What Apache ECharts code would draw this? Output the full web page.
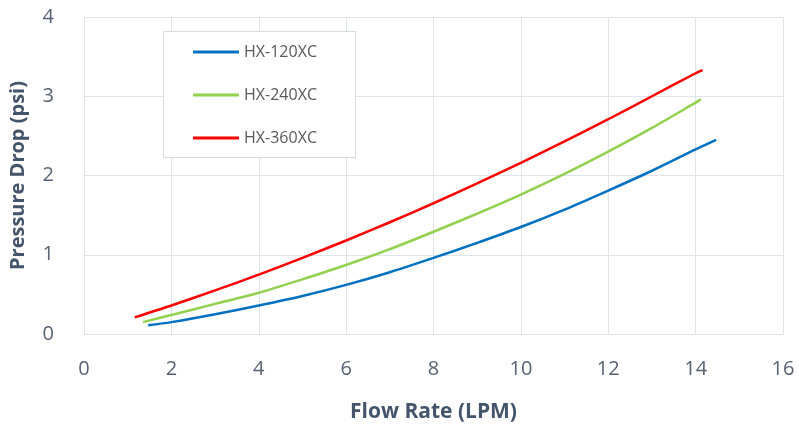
<!DOCTYPE html>
<html>
<head>
<meta charset="utf-8">
<script src="https://cdn.jsdelivr.net/npm/echarts@6/dist/echarts.min.js"></script>
<style>html,body{margin:0;padding:0;background:#fff}#c{width:799px;height:432px}</style>
</head>
<body>
<div id="c"></div>
<script>
var seriesNames = ['HX-120XC', 'HX-240XC', 'HX-360XC'];
var hx120 = [[1.47,0.11],[2,0.15],[3,0.25],[4,0.36],[5,0.48],[6,0.62],[7,0.78],[8,0.96],[9,1.15],[10,1.35],[11,1.57],[12,1.81],[13,2.06],[14,2.33],[14.47,2.45]];
var hx240 = [[1.35,0.15],[2,0.24],[3,0.38],[4,0.52],[5,0.69],[6,0.87],[7,1.07],[8,1.29],[9,1.52],[10,1.76],[11,2.02],[12,2.30],[13,2.60],[14,2.92],[14.12,2.96]];
var hx360 = [[1.16,0.21],[2,0.36],[3,0.55],[4,0.75],[5,0.96],[6,1.18],[7,1.41],[8,1.65],[9,1.90],[10,2.16],[11,2.43],[12,2.71],[13,3.00],[14,3.29],[14.16,3.33]];
var colors = ['#0070C0', '#92D050', '#FF0000'];
var xTicks = {min: 0, max: 16, interval: 2};
var yTicks = {min: 0, max: 4, interval: 1};

var chart = echarts.init(document.getElementById('c'), null, {renderer: 'canvas'});
var font = '"Open Sans", sans-serif';
var gridColor = '#dfe4ec';
var dataSets = [hx120, hx240, hx360];
chart.setOption({
  animation: false,
  backgroundColor: '#fff',
  grid: {left: 84, right: 16, top: 17, bottom: 98, containLabel: false, outerBoundsMode: 'none'},
  graphic: [{
    type: 'rect', left: 163, top: 31, z: 5,
    shape: {width: 192, height: 126},
    style: {fill: '#fff', stroke: '#d9d9d9', lineWidth: 1}
  }],
  legend: {
    orient: 'vertical', left: 188, top: 37, z: 10,
    icon: 'rect', itemWidth: 46, itemHeight: 3, itemGap: 23,
    textStyle: {fontFamily: font, fontSize: 16, color: '#595959', lineHeight: 20},
    data: seriesNames
  },
  xAxis: {
    type: 'value', min: xTicks.min, max: xTicks.max, interval: xTicks.interval,
    name: 'Flow Rate (LPM)', nameLocation: 'middle', nameGap: 68, nameMoveOverlap: false,
    nameTextStyle: {fontFamily: font, fontSize: 21, fontWeight: 'bold', color: '#44546A'},
    axisLine: {show: true, lineStyle: {color: gridColor, width: 1}},
    axisTick: {show: false},
    axisLabel: {fontFamily: font, fontSize: 20, color: '#586273', margin: 25},
    splitLine: {show: true, lineStyle: {color: gridColor, width: 1}}
  },
  yAxis: {
    type: 'value', min: yTicks.min, max: yTicks.max, interval: yTicks.interval,
    name: 'Pressure Drop (psi)', nameLocation: 'middle', nameGap: 56, nameMoveOverlap: false,
    nameTextStyle: {fontFamily: font, fontSize: 20, fontWeight: 'bold', color: '#44546A'},
    axisLine: {show: true, lineStyle: {color: gridColor, width: 1}},
    axisTick: {show: false},
    axisLabel: {fontFamily: font, fontSize: 20, color: '#586273', margin: 30},
    splitLine: {show: true, lineStyle: {color: gridColor, width: 1}}
  },
  series: seriesNames.map(function (n, i) {
    return {
      name: n, type: 'line', data: dataSets[i], smooth: 0.3,
      showSymbol: false, symbol: 'none',
      lineStyle: {color: colors[i], width: 2.5},
      itemStyle: {color: colors[i]}
    };
  })
});
</script>
</body>
</html>
